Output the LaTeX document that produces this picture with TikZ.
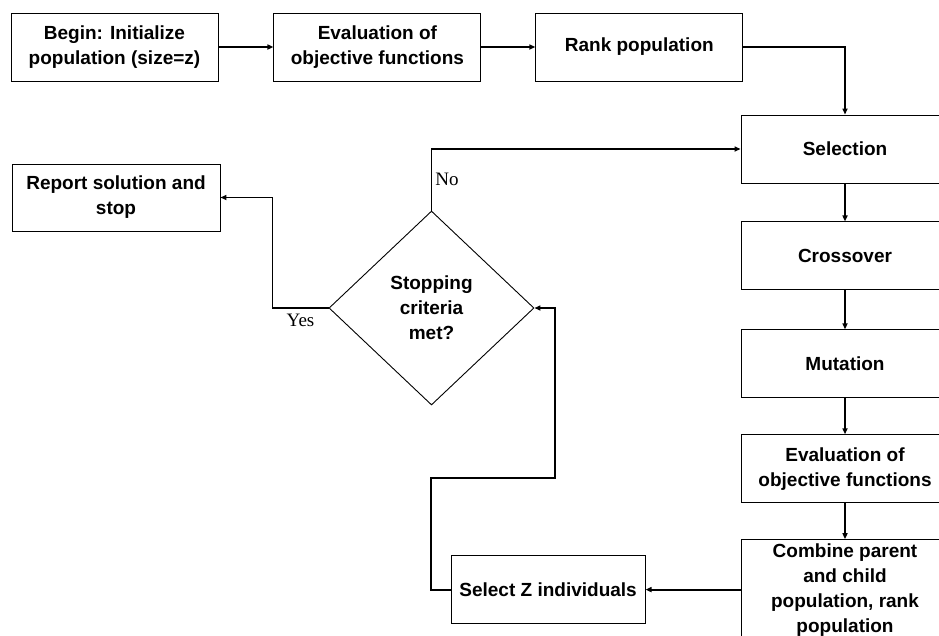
\documentclass[tikz,border=0pt]{standalone}
\usepackage{fontspec}
\setmainfont{Liberation Sans}
\newfontfamily\answerserif{Liberation Serif}
\usepackage{tikz}
\usetikzlibrary{
  shapes.geometric,
  arrows.meta,
  positioning,
  calc
}
\newcommand{\blockfont}{\fontsize{19}{25}\selectfont\bfseries}
\newcommand{\answerfont}{\answerserif\fontsize{19}{22}\selectfont}
\tikzset{
  block/.style={
    rectangle, draw=black, line width=0.9pt, fill=white,
    minimum width=207pt, minimum height=68pt, inner sep=2pt,
    align=center, font=\blockfont
  },
  decision/.style={
    diamond, draw=black, line width=0.9pt, fill=white,
    minimum width=205pt, minimum height=194pt, inner sep=0pt,
    align=center, font=\blockfont
  },
  arrow/.style={-{Triangle[length=6pt,width=5pt]}, line width=1.8pt},
  answer/.style={font=\answerfont, inner sep=3pt}
}

\begin{document}
\begin{tikzpicture}[x=1pt, y=-1pt]
  \useasboundingbox (0,0) rectangle (939,635);

  % Row 1: start
  \node[block] (init) at (114.5,47) {Begin: Initialize\\population (size=z)};
  \node[block, right=55pt of init] (evala) {Evaluation of\\objective functions};
  \node[block, right=54pt of evala] (rank) {Rank population};

  % Right column: one generation
  \node[block, minimum width=208pt] (sel) at (845,149) {Selection};
  \node[block, minimum width=208pt, below=38pt of sel] (cross) {Crossover};
  \node[block, minimum width=208pt, below=39pt of cross] (mut) {Mutation};
  \node[block, minimum width=208pt, below=36pt of mut]
    (evalb) {Evaluation of\\objective functions};
  \node[block, minimum width=208pt, minimum height=100pt, below=36pt of evalb]
    (comb) {Combine parent\\and child\\population, rank\\population};
  \node[block, minimum width=194pt, left=95pt of comb] (selz) {Select Z individuals};

  % Test and exit
  \node[decision] (dec) at (431.5,308) {Stopping\\criteria\\met?};
  \node[block, minimum width=208pt, minimum height=67pt]
    (report) at (116,197.5) {Report solution and\\stop};
  \coordinate (loop) at (555,478);

  \draw[arrow] (init)  -- (evala);
  \draw[arrow] (evala) -- (rank);
  \draw[arrow] (rank.east) -| (sel.north);
  \draw[arrow] (sel)   -- (cross);
  \draw[arrow] (cross) -- (mut);
  \draw[arrow] (mut)   -- (evalb);
  \draw[arrow] (evalb) -- (comb);
  \draw[arrow] (comb)  -- (selz);
  \draw[arrow] (selz.west) -- ++(-20,0) |- (loop) |- (dec.east);
  \draw[arrow] (dec.north) |- node[pos=0.25, right, answer] {No} (sel.west);
  \draw[arrow] (dec.west) -- ++(-56,0) node[midway, below, answer, inner sep=5pt] {Yes}
        |- (report.east);
\end{tikzpicture}
\end{document}
